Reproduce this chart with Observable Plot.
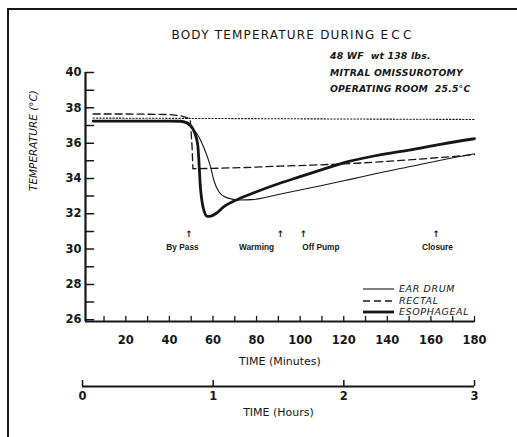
<!DOCTYPE html>
<html><head><meta charset="utf-8">
<script src="https://cdn.jsdelivr.net/npm/d3@7"></script>
<script src="https://cdn.jsdelivr.net/npm/@observablehq/plot@0.6"></script>
<style>
body{margin:0;background:#fff;}
#wrap{position:relative;width:517px;height:437px;overflow:hidden;background:#fff;font-family:"DejaVu Sans",sans-serif;color:#161616;}
#wrap svg{display:block;}
.border{position:absolute;left:7px;top:8px;width:530px;height:450px;border-left:2px solid #161616;border-top:2px solid #161616;box-sizing:border-box;pointer-events:none;}
.title{position:absolute;left:0;width:586px;top:28px;text-align:center;font-size:12px;letter-spacing:1.2px;}
.title .ecc{letter-spacing:3.2px;}
.notes{position:absolute;left:330px;top:48px;font-size:9.3px;font-weight:bold;font-style:oblique;line-height:16.5px;letter-spacing:0.2px;}
.legend{position:absolute;left:363px;top:283px;font-size:9.5px;font-style:oblique;line-height:11.7px;letter-spacing:0.6px;}
.legend div{display:flex;align-items:center;height:11.7px;}
.legend svg{margin-right:5px;}
</style>
</head><body>
<div id="wrap">
  <div class="border"></div>
  <div class="title">BODY TEMPERATURE DURING <span class="ecc">ECC</span></div>
  <div class="notes">48 WF&nbsp; wt 138 lbs.<br>MITRAL OMISSUROTOMY<br>OPERATING ROOM&nbsp; 25.5°C</div>
  <div id="main"></div>
  <div id="hours"></div>
  <div class="legend" id="legend"></div>
</div>
<script>
// ---- data (time in minutes, temperature in °C) ----
const earTime = [5, 15, 30, 45, 48, 50.5, 52.8, 55.8, 58.9, 60.4, 62.7, 66.5, 72, 78, 85, 91, 100, 110, 123, 135, 150, 165, 180];
const earTemp = [37.25, 37.25, 37.25, 37.24, 37.1, 36.85, 36.5, 35.75, 34.65, 33.9, 33.25, 32.9, 32.78, 32.8, 32.95, 33.12, 33.35, 33.6, 33.95, 34.28, 34.66, 35.05, 35.4];

const rectalTime = [5, 20, 40, 45, 48, 49.6, 50.4, 50.8, 60, 75, 91, 105, 126, 150, 170, 180];
const rectalTemp = [37.65, 37.65, 37.62, 37.55, 37.45, 37.3, 35.8, 34.55, 34.57, 34.62, 34.7, 34.75, 34.86, 35.05, 35.24, 35.35];

const esoTime = [5, 15, 30, 45, 48, 51, 53, 54.3, 55.8, 57.4, 59, 61.2, 65, 72, 80, 90, 100, 110, 122, 135, 150, 165, 180];
const esoTemp = [37.25, 37.25, 37.25, 37.24, 37.15, 36.75, 35.9, 33.4, 32.2, 31.85, 31.87, 32.0, 32.4, 32.85, 33.25, 33.7, 34.1, 34.5, 34.95, 35.3, 35.6, 35.95, 36.25];

const refTime = [5, 180];
const refTemp = [37.42, 37.34];

const eventNames = ["By Pass", "Warming", "Off Pump", "Closure"];
const eventTime = [49, 91, 101.5, 162.5];
const eventLabelTime = [46, 80, 109.5, 163];
const eventArrowTemp = 30.85;
const eventLabelTemp = 30.12;

const seriesNames = ["EAR DRUM", "RECTAL", "ESOPHAGEAL"];

const xDomain = [1.5, 180];
const yDomain = [25.9, 40];
const minuteTicks = [20, 40, 60, 80, 100, 120, 140, 160, 180];
const minuteMinorTicks = d3.range(10, 181, 10);
const tempTicks = [26, 28, 30, 32, 34, 36, 38, 40];
const tempMinorTicks = d3.range(26, 41, 1);
const hourTicks = [0, 1, 2, 3];

// ---- tables ----
const toRows = (ts, vs) => ts.map((t, i) => ({t, T: vs[i]}));
const ear = toRows(earTime, earTemp);
const rectal = toRows(rectalTime, rectalTemp);
const eso = toRows(esoTime, esoTemp);
const ref = toRows(refTime, refTemp);
const events = eventNames.map((name, i) => ({name, t: eventTime[i], lt: eventLabelTime[i]}));

const ink = "#161616";
const font = "DejaVu Sans, sans-serif";

// layout
const W = 517, H = 370, mT = 72, mB = 49, mL = 85, mR = 43;
const yTickLen = 8, xTickLen = 5;

// short inward tick shape for vector marks
const tickShape = {draw(context, l) { context.moveTo(0, 0); context.lineTo(0, -l); }};

const main = Plot.plot({
  width: W, height: H,
  marginTop: mT, marginBottom: mB, marginLeft: mL, marginRight: mR,
  x: {domain: xDomain},
  y: {domain: yDomain},
  style: {fontFamily: font, color: ink, background: "transparent", overflow: "visible"},
  marks: [
    Plot.ruleX([xDomain[0]], {stroke: ink, strokeWidth: 2.2}),
    Plot.ruleY([yDomain[0]], {stroke: ink, strokeWidth: 2.2}),
    // inward ticks
    Plot.vector(tempMinorTicks, {x: () => xDomain[0], y: d => d, length: yTickLen, rotate: 90, anchor: "start", shape: tickShape, stroke: ink, strokeWidth: 1.5}),
    Plot.vector(minuteMinorTicks, {x: d => d, y: () => yDomain[0], length: xTickLen, rotate: 0, anchor: "start", shape: tickShape, stroke: ink, strokeWidth: 1.3}),
    Plot.axisY(tempTicks, {tickSize: 0, tickPadding: 4, label: null, fontSize: 11.5, fontWeight: "bold", letterSpacing: 0.5}),
    Plot.axisX(minuteTicks, {tickSize: 0, tickPadding: 14, label: null, fontSize: 11.5, fontWeight: "bold", letterSpacing: 0.5}),
    Plot.text(["TEMPERATURE (°C)"], {frameAnchor: "left", rotate: -90, dx: -52, dy: -6, fontSize: 10.5, fontStyle: "oblique", fill: ink, letterSpacing: 0.6}),
    Plot.text(["TIME (Minutes)"], {frameAnchor: "bottom", dy: 43, fontSize: 11, fill: ink, letterSpacing: 0.4}),
    // series
    Plot.line(ref, {x: "t", y: "T", stroke: ink, strokeWidth: 1.1, strokeDasharray: "1.3,2"}),
    Plot.line(rectal, {x: "t", y: "T", stroke: ink, strokeWidth: 1.3, strokeDasharray: "7,4"}),
    Plot.line(ear, {x: "t", y: "T", stroke: ink, strokeWidth: 1.1, curve: "monotone-x"}),
    Plot.line(eso, {x: "t", y: "T", stroke: ink, strokeWidth: 2.8, curve: "monotone-x"}),
    // event annotations
    Plot.text(events, {x: "t", y: () => eventArrowTemp, text: () => "↑", fontSize: 9, fontWeight: "bold", fill: ink}),
    Plot.text(events, {x: "lt", y: () => eventLabelTemp, text: "name", fontSize: 8.3, fontWeight: "bold", fill: ink, fontFamily: "Liberation Sans, sans-serif"})
  ]
});
document.getElementById("main").appendChild(main);

const hours = Plot.plot({
  width: W, height: 67,
  marginTop: 10, marginBottom: 51, marginLeft: 82, marginRight: mR,
  x: {domain: [0, 180]},
  y: {domain: [0, 1], axis: null},
  style: {fontFamily: font, color: ink, background: "transparent", overflow: "visible"},
  marks: [
    Plot.tickX(hourTicks, {x: d => d * 60, stroke: ink, strokeWidth: 1.5}),
    Plot.ruleY([0], {stroke: ink, strokeWidth: 2.2}),
    Plot.axisX(hourTicks.map(h => h * 60), {tickSize: 0, tickPadding: 5, tickFormat: d => d / 60, label: null, fontSize: 11.5, fontWeight: "bold"}),
    Plot.text(["TIME (Hours)"], {frameAnchor: "bottom", dy: 29, fontSize: 11, fill: ink, letterSpacing: 0.4})
  ]
});
document.getElementById("hours").appendChild(hours);

// legend
const legend = document.getElementById("legend");
const styles = [
  {w: 1.1, dash: null},
  {w: 1.3, dash: "7,4"},
  {w: 2.8, dash: null}
];
seriesNames.forEach((name, i) => {
  const row = document.createElement("div");
  const s = styles[i];
  row.innerHTML = `<svg width="31" height="6"><line x1="0" x2="31" y1="3" y2="3" stroke="${ink}" stroke-width="${s.w}" ${s.dash ? `stroke-dasharray="${s.dash}"` : ""}/></svg><span>${name}</span>`;
  legend.appendChild(row);
});
</script>
</body></html>
